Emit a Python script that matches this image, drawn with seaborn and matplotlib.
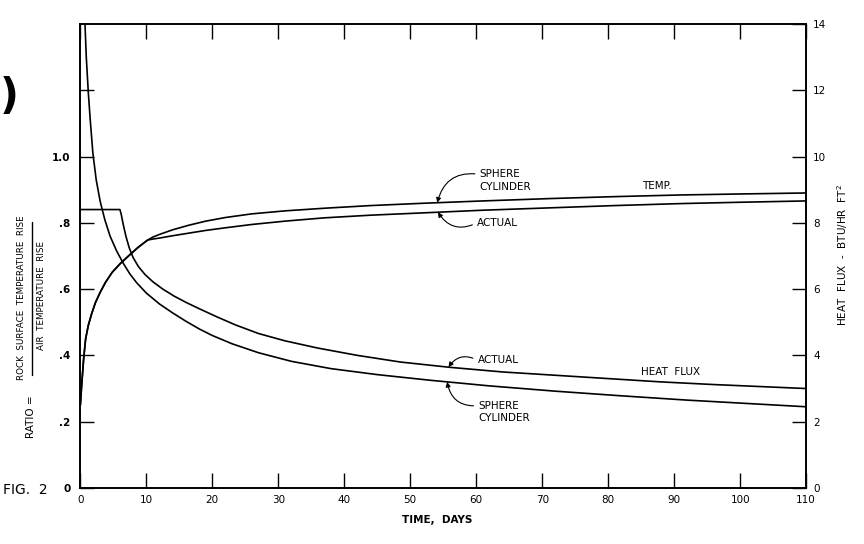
import numpy as np
import matplotlib.pyplot as plt
import seaborn as sns
from matplotlib.lines import Line2D

# temperature ratio curves (left axis)
temp_days = [0, 0.2, 0.5, 0.8, 1.2, 1.7, 2.3, 3.0, 3.8, 4.8, 6.0, 7.3, 8.7, 10.2, 11, 12, 14, 16.5, 19, 22, 26, 31, 37, 44, 52, 61, 71, 81, 91, 100, 110]
temp_sphere = [0.25, 0.31, 0.39, 0.45, 0.49, 0.525, 0.56, 0.59, 0.62, 0.65, 0.676, 0.70, 0.725, 0.748, 0.757, 0.765, 0.779, 0.793, 0.805, 0.816, 0.827, 0.836, 0.844, 0.852, 0.859, 0.866, 0.873, 0.879, 0.884, 0.887, 0.89]
temp_actual = [0.25, 0.31, 0.39, 0.45, 0.49, 0.525, 0.56, 0.59, 0.62, 0.65, 0.676, 0.70, 0.725, 0.748, 0.751, 0.754, 0.761, 0.769, 0.777, 0.785, 0.795, 0.805, 0.815, 0.823, 0.83, 0.838, 0.845, 0.852, 0.858, 0.862, 0.866]

# heat flux curves (right axis, BTU/hr ft2)
flux_actual_days = [0, 6.0, 6.2, 6.5, 6.9, 7.4, 8.0, 8.8, 9.8, 11, 12.5, 14.2, 16, 18, 20.5, 23.5, 27, 31, 36, 42, 48.5, 56, 64, 72, 80, 88, 96, 103, 110]
flux_actual = [8.4, 8.4, 8.25, 7.95, 7.6, 7.25, 6.95, 6.68, 6.44, 6.22, 6.0, 5.79, 5.6, 5.41, 5.18, 4.92, 4.66, 4.44, 4.22, 4.0, 3.8, 3.64, 3.5, 3.4, 3.3, 3.2, 3.12, 3.06, 3.0]
flux_sphere_days = [0.6, 0.7, 0.9, 1.2, 1.5, 1.9, 2.4, 3.0, 3.7, 4.5, 5.5, 6.5, 7.5, 8.5, 10, 12, 14, 16, 18, 20, 23, 27, 32, 38, 45, 53, 62, 72, 82, 92, 101, 110]
flux_sphere = [15.0, 14.0, 13.0, 11.95, 11.1, 10.1, 9.3, 8.65, 8.1, 7.6, 7.15, 6.78, 6.46, 6.2, 5.88, 5.55, 5.28, 5.03, 4.8, 4.6, 4.35, 4.08, 3.82, 3.6, 3.42, 3.25, 3.08, 2.92, 2.78, 2.65, 2.55, 2.45]

x_ticks = list(range(0, 111, 10))
ratio_ticks = [0, 0.2, 0.4, 0.6, 0.8, 1.0, 1.2]
ratio_labels = ["0", ".2", ".4", ".6", ".8", "1.0", ""]
flux_ticks = list(range(0, 15, 2))

sns.set_theme(style="white")
plt.rcParams["font.family"] = ["DejaVu Sans"]
plt.rcParams["text.color"] = "black"
plt.rcParams["xtick.color"] = "black"
plt.rcParams["ytick.color"] = "black"

fig = plt.figure(figsize=(8.64, 5.44), dpi=100)
ax = fig.add_axes([0.093, 0.103, 0.840, 0.853])
ax2 = ax.twinx()

sns.lineplot(x=temp_days, y=temp_sphere, ax=ax, color="black", lw=1.2)
sns.lineplot(x=temp_days, y=temp_actual, ax=ax, color="black", lw=1.2)
sns.lineplot(x=flux_actual_days, y=flux_actual, ax=ax2, color="black", lw=1.2)
sns.lineplot(x=flux_sphere_days, y=flux_sphere, ax=ax2, color="black", lw=1.2)

ax.set_xlim(0, 110)
ax.set_ylim(0, 1.4)
ax2.set_ylim(0, 14)

ax.set_xticks(x_ticks)
ax.set_xticklabels([str(t) for t in x_ticks], fontsize=7.5)
ax.set_yticks(ratio_ticks)
ax.set_yticklabels(ratio_labels, fontsize=7.5, fontweight="bold")
ax2.set_yticks(flux_ticks)
ax2.set_yticklabels([str(t) for t in flux_ticks], fontsize=7.5)

ax.xaxis.set_ticks_position("both")
ax.tick_params(axis="x", direction="in", length=11, width=1, pad=5, colors="black")
ax.tick_params(axis="y", direction="in", length=10, width=1, pad=7, colors="black")
ax2.tick_params(axis="y", direction="in", length=10, width=1, pad=5, colors="black")
for a in (ax, ax2):
    for s in a.spines.values():
        s.set_color("black")
        s.set_linewidth(1.2)
ax.set_xlabel("")
ax.set_ylabel("")
ax2.set_ylabel("")

arrow = dict(arrowstyle="-|>", color="black", lw=0.8, mutation_scale=7, shrinkA=1, shrinkB=0)

ax.annotate("SPHERE\nCYLINDER", xy=(54.1, np.interp(54.1, temp_days, temp_sphere)),
            xytext=(60.5, 0.927), ha="left", va="center", fontsize=7.5, linespacing=1.35,
            arrowprops=dict(arrow, connectionstyle="arc3,rad=0.45", relpos=(0, 0.78)))
ax.annotate("ACTUAL", xy=(54.2, np.interp(54.2, temp_days, temp_actual)),
            xytext=(60.1, 0.80), ha="left", va="center", fontsize=7.5,
            arrowprops=dict(arrow, connectionstyle="arc3,rad=-0.45", relpos=(0, 0.5)))
ax.text(85.1, 0.91, "TEMP.", ha="left", va="center", fontsize=7.5)

ax2.annotate("ACTUAL", xy=(55.8, np.interp(55.8, flux_actual_days, flux_actual)),
             xytext=(60.2, 3.85), ha="left", va="center", fontsize=7.5,
             arrowprops=dict(arrow, connectionstyle="arc3,rad=0.45", relpos=(0, 0.5)))
ax2.text(84.9, 3.5, "HEAT  FLUX", ha="left", va="center", fontsize=7.5)
ax2.annotate("SPHERE\nCYLINDER", xy=(55.6, np.interp(55.6, flux_sphere_days, flux_sphere)),
             xytext=(60.3, 2.29), ha="left", va="center", fontsize=7.5, linespacing=1.35,
             arrowprops=dict(arrow, connectionstyle="arc3,rad=-0.45", relpos=(0, 0.78)))

# left axis label drawn as a fraction
fig.text(31 / 864, 1 - 417 / 544, "RATIO =", rotation=90, ha="center", va="center", fontsize=7.5)
fig.text(22 / 864, 1 - 298 / 544, "ROCK  SURFACE  TEMPERATURE  RISE", rotation=90,
         ha="center", va="center", fontsize=6.3)
fig.text(42 / 864, 1 - 296 / 544, "AIR  TEMPERATURE  RISE", rotation=90,
         ha="center", va="center", fontsize=6.3)
fig.add_artist(Line2D([32 / 864, 32 / 864], [1 - 375 / 544, 1 - 222 / 544],
                      transform=fig.transFigure, color="black", lw=1))

fig.text(843 / 864, 1 - 255 / 544, "HEAT  FLUX  -  BTU/HR  FT$^2$", rotation=90,
         ha="center", va="center", fontsize=7.5)
fig.text(437 / 864, 1 - 520 / 544, "TIME,  DAYS", ha="center", va="center",
         fontsize=7.5, fontweight="bold")
fig.text(0.003, 1 - 490 / 544, "FIG.  2", ha="left", va="center", fontsize=10)
fig.text(0.0, 1 - 97 / 544, ")", ha="left", va="center", fontsize=30, fontweight="bold")

fig.savefig("out.png", dpi=100)
